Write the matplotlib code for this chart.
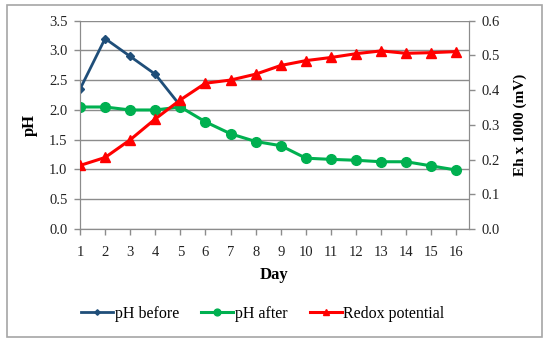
import matplotlib
matplotlib.use("Agg")
import matplotlib.pyplot as plt
from matplotlib.patches import Rectangle

days = list(range(1, 17))
ph_before_days = [1, 2, 3, 4, 5]
ph_before = [2.35, 3.2, 2.9, 2.6, 2.07]
ph_after = [2.05, 2.05, 2.0, 2.0, 2.05, 1.8, 1.6, 1.47, 1.4, 1.19, 1.17, 1.155, 1.13, 1.13, 1.06, 0.99]
redox = [0.183, 0.206, 0.257, 0.317, 0.372, 0.42, 0.429, 0.446, 0.471, 0.485, 0.494, 0.505, 0.513, 0.506, 0.508, 0.511]

ph_ticks = [0.0, 0.5, 1.0, 1.5, 2.0, 2.5, 3.0, 3.5]
eh_ticks = [0.0, 0.1, 0.2, 0.3, 0.4, 0.5, 0.6]

plt.rcParams['font.family'] = ['Liberation Serif', 'DejaVu Serif']
grid_col = '#8c8c8c'

fig = plt.figure(figsize=(5.5, 3.45), dpi=100)
fig.patches.append(Rectangle((7 / 550, 1 - 337 / 345), 535 / 550, 332 / 345,
                             transform=fig.transFigure, fill=False,
                             edgecolor='#a6a6a6', linewidth=1.2))

ax = fig.add_axes([80 / 550, 1 - 229 / 345, 389 / 550, 208.3 / 345])
ax2 = ax.twinx()

ax.set_ylim(0, 3.5)
ax.set_xlim(1, 16.5)
ax.set_yticks(ph_ticks)
ax.set_yticklabels([f"{t:.1f}" for t in ph_ticks])
ax.set_xticks(days)
ax.yaxis.grid(True, color=grid_col, linewidth=1)
ax.set_axisbelow(True)

ax2.set_ylim(0, 0.6)
ax2.set_yticks(eh_ticks)
ax2.set_yticklabels([f"{t:.1f}" for t in eh_ticks])

for a in (ax, ax2):
    a.spines['top'].set_visible(False)
    for s in ('left', 'right', 'bottom'):
        a.spines[s].set_color(grid_col)
    a.tick_params(colors=grid_col, labelcolor='#222222', labelsize=10.5, length=4, width=1, pad=5)
ax.tick_params(axis='x', pad=8)

l1, = ax.plot(ph_before_days, ph_before, color='#1f4e79', marker='D', markersize=4,
              linewidth=2, label='pH before', zorder=3)
l2, = ax.plot(days, ph_after, color='#00b050', marker='o', markersize=7,
              linewidth=2.2, label='pH after', zorder=3)
l3, = ax2.plot(days, redox, color='#ff0000', marker='^', markersize=7,
               linewidth=2.2, label='Redox potential', zorder=4)

ax.set_ylabel('pH', fontsize=12, fontweight='bold', labelpad=8)
ax2.set_ylabel('Eh x 1000 (mV)', fontsize=11, fontweight='bold', labelpad=10)
ax.set_xlabel('Day', fontsize=12, fontweight='bold', labelpad=6)

fig.legend(handles=[l1, l2, l3], loc='center', bbox_to_anchor=(263 / 550, 1 - 314 / 345),
           ncol=3, frameon=False, fontsize=11.5, handlelength=2.0, handletextpad=0.1,
           columnspacing=1.4, markerscale=0.7)

fig.savefig('out.png', dpi=100)
